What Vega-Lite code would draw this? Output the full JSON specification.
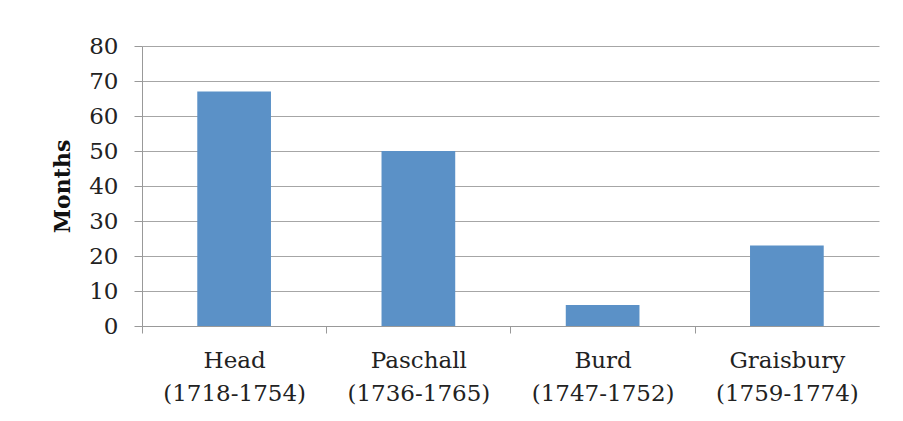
{
  "$schema": "https://vega.github.io/schema/vega-lite/v6.json",
  "width": 737,
  "height": 280,
  "autosize": "none",
  "padding": {"left": 142, "top": 46, "right": 24, "bottom": 95},
  "background": "white",
  "data": {
    "values": [
      {"name": "Head (1718-1754)", "months": 67},
      {"name": "Paschall (1736-1765)", "months": 50},
      {"name": "Burd (1747-1752)", "months": 6},
      {"name": "Graisbury (1759-1774)", "months": 23}
    ]
  },
  "mark": {"type": "bar", "color": "#5b91c7"},
  "encoding": {
    "x": {
      "field": "name", "type": "nominal", "sort": null, "title": null,
      "scale": {"paddingInner": 0.6, "paddingOuter": 0.3},
      "axis": {
        "labelAngle": 0,
        "labelExpr": "split(datum.label, ' ')",
        "labelFont": "DejaVu Serif",
        "labelFontSize": 23,
        "labelColor": "#222",
        "labelLineHeight": 33,
        "labelPadding": 16,
        "labelOffset": 92.25,
        "ticks": true,
        "tickOffset": -92.25,
        "tickSize": 7,
        "tickWidth": 1,
        "tickColor": "#999",
        "domainColor": "#999",
        "grid": false
      }
    },
    "y": {
      "field": "months", "type": "quantitative", "title": "Months",
      "scale": {"domain": [0, 80]},
      "axis": {
        "values": [0, 10, 20, 30, 40, 50, 60, 70, 80],
        "labelFont": "DejaVu Serif",
        "labelFontSize": 23,
        "labelColor": "#222",
        "labelPadding": 16,
        "tickSize": 8,
        "tickColor": "#999",
        "domainColor": "#999",
        "gridColor": "#a6a6a6",
        "titleFont": "DejaVu Serif",
        "titleFontSize": 22,
        "titleFontWeight": "bold",
        "titleColor": "#111",
        "titlePadding": 14
      }
    }
  },
  "config": {"view": {"stroke": null}}
}
